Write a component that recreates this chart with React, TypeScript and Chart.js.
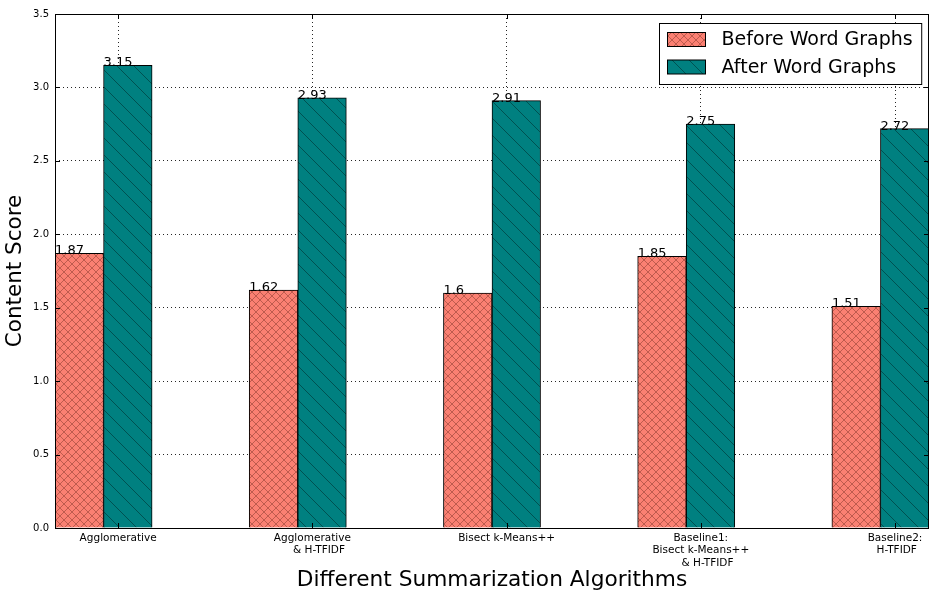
import { useEffect, useRef } from "react";
import { Chart, registerables } from "chart.js";

Chart.register(...registerables);

// Algorithm groups along the x axis (multi-line tick labels)
const categories: string[][] = [
  ["Agglomerative"],
  ["Agglomerative", "    & H-TFIDF"],
  ["Bisect k-Means++"],
  ["Baseline1:", "Bisect k-Means++", "    & H-TFIDF"],
  ["Baseline2:", " H-TFIDF"],
];

const seriesNames = ["Before Word Graphs", "After Word Graphs"];
const beforeScores = [1.87, 1.62, 1.6, 1.85, 1.51];
const afterScores = [3.15, 2.93, 2.91, 2.75, 2.72];

const yTickValues = [0, 0.5, 1, 1.5, 2, 2.5, 3, 3.5];

const xTitle = "Different Summarization Algorithms";
const yTitle = "Content Score";

// bar geometry in x-axis units (one unit per group)
const BAR_WIDTH = 0.25;
const TICK_OFFSET = 0.325;
const X_MAX = 4.5;

const SANS = "'DejaVu Sans', sans-serif";

function makeHatch(bg: string, fg: string, size: number, kinds: string[]) {
  const c = document.createElement("canvas");
  c.width = size;
  c.height = size;
  const g = c.getContext("2d")!;
  g.fillStyle = bg;
  g.fillRect(0, 0, size, size);
  g.strokeStyle = fg;
  g.lineWidth = 1;
  g.beginPath();
  for (let k = -1; k <= 1; k++) {
    if (kinds.includes("\\")) {
      g.moveTo(k * size, 0);
      g.lineTo(k * size + size, size);
    }
    if (kinds.includes("/")) {
      g.moveTo(k * size, size);
      g.lineTo(k * size + size, 0);
    }
  }
  g.stroke();
  return g.createPattern(c, "repeat")!;
}

export default function App() {
  const ref = useRef<HTMLCanvasElement>(null);

  useEffect(() => {
    document.body.style.margin = "0";
    const canvas = ref.current!;

    const redHatch = makeHatch("#fa8072", "rgba(140,60,50,0.55)", 8, ["\\", "/"]);
    const tealHatch = makeHatch("#008080", "rgba(0,50,50,0.6)", 17, ["\\"]);
    const fills = [redHatch, tealHatch];

    const valueLabels = {
      id: "valueLabels",
      afterDatasetsDraw(chart: any) {
        const ctx = chart.ctx;
        ctx.save();
        ctx.font = `13px ${SANS}`;
        ctx.fillStyle = "#000";
        ctx.textAlign = "left";
        ctx.textBaseline = "alphabetic";
        chart.data.datasets.forEach((ds: any, di: number) => {
          const meta = chart.getDatasetMeta(di);
          meta.data.forEach((bar: any, i: number) => {
            const p = bar.getProps(["x", "y", "width"], true);
            ctx.fillText(String(ds.data[i].y), p.x - p.width / 2, p.y + 1);
          });
        });
        ctx.restore();
      },
    };

    const frameAndLegend = {
      id: "frameAndLegend",
      afterDraw(chart: any) {
        const ctx = chart.ctx;
        const a = chart.chartArea;
        ctx.save();
        // axes frame
        ctx.strokeStyle = "#000";
        ctx.lineWidth = 1;
        ctx.strokeRect(a.left + 0.5, a.top + 0.5, a.right - a.left - 1, a.bottom - a.top);
        // inward tick marks
        ctx.beginPath();
        const ys = chart.scales.y;
        ys.ticks.forEach((t: any) => {
          const py = Math.round(ys.getPixelForValue(t.value)) + 0.5;
          ctx.moveTo(a.left, py);
          ctx.lineTo(a.left + 5, py);
          ctx.moveTo(a.right, py);
          ctx.lineTo(a.right - 5, py);
        });
        const xs = chart.scales.x;
        xs.ticks.forEach((t: any) => {
          const px = Math.round(xs.getPixelForValue(t.value)) + 0.5;
          ctx.moveTo(px, a.bottom);
          ctx.lineTo(px, a.bottom - 5);
          ctx.moveTo(px, a.top);
          ctx.lineTo(px, a.top + 5);
        });
        ctx.stroke();

        // legend box
        ctx.font = `19px ${SANS}`;
        const textW = Math.max(...chart.data.datasets.map((d: any) => ctx.measureText(d.label).width));
        const boxW = 62 + textW + 9;
        const boxH = 61;
        const bx = Math.round(a.right - 8 - boxW) + 0.5;
        const by = a.top + 9.5;
        ctx.fillStyle = "#fff";
        ctx.fillRect(bx, by, boxW, boxH);
        ctx.strokeStyle = "#000";
        ctx.strokeRect(bx, by, boxW, boxH);
        chart.data.datasets.forEach((d: any, i: number) => {
          const cy = by + 16 + i * 27.5;
          ctx.fillStyle = d.backgroundColor;
          ctx.fillRect(bx + 8, cy - 7, 38, 14);
          ctx.strokeStyle = "#000";
          ctx.strokeRect(bx + 8, cy - 7, 38, 14);
          ctx.fillStyle = "#000";
          ctx.textAlign = "left";
          ctx.textBaseline = "middle";
          ctx.fillText(d.label, bx + 62, cy + 1);
        });
        ctx.restore();
      },
    };

    const chart = new Chart(canvas, {
      type: "bar",
      data: {
        datasets: [beforeScores, afterScores].map((vals, si) => ({
          label: seriesNames[si],
          data: vals.map((v, i) => ({ x: i + BAR_WIDTH * (si + 0.5), y: v })),
          backgroundColor: fills[si] as any,
          borderColor: "#000",
          borderWidth: 1,
          borderSkipped: "bottom",
          grouped: false,
          categoryPercentage: 1,
          barPercentage: 1,
        })),
      },
      options: {
        responsive: false,
        devicePixelRatio: 1,
        animation: false,
        layout: { padding: { top: 14, right: 1, left: 0, bottom: 0 } },
        plugins: {
          legend: { display: false },
          tooltip: { enabled: false },
        },
        scales: {
          x: {
            type: "linear",
            min: 0,
            max: X_MAX,
            offset: false,
            z: 1,
            afterBuildTicks: (s: any) => {
              s.ticks = categories.map((_, i) => ({ value: i + TICK_OFFSET }));
            },
            afterFit: (s: any) => {
              s.height = 65;
            },
            ticks: {
              autoSkip: false,
              maxRotation: 0,
              minRotation: 0,
              padding: 4,
              color: "#000",
              font: { family: SANS, size: 10.5, lineHeight: 1.18 },
              callback: (_v: any, i: number) => categories[i],
            },
            grid: { color: "rgba(0,0,0,0.85)", lineWidth: 1, drawTicks: false, offset: false },
            border: { display: false, dash: [1, 3] },
            title: {
              display: true,
              text: xTitle,
              color: "#000",
              font: { family: SANS, size: 21.7, lineHeight: 1.2 },
              padding: { top: 0, bottom: 0 },
            },
          },
          y: {
            min: 0,
            max: 3.5,
            z: 1,
            afterBuildTicks: (s: any) => {
              s.ticks = yTickValues.map((v) => ({ value: v }));
            },
            afterFit: (s: any) => {
              s.width = 55;
            },
            ticks: {
              padding: 6,
              color: "#000",
              font: { family: SANS, size: 10 },
              callback: (v: any) => Number(v).toFixed(1),
            },
            grid: { color: "rgba(0,0,0,0.85)", lineWidth: 1, drawTicks: false },
            border: { display: false, dash: [1, 3] },
            title: {
              display: true,
              text: yTitle,
              color: "#000",
              font: { family: SANS, size: 21.5, lineHeight: 1.2 },
              padding: { top: 2.5, bottom: 0 },
            },
          },
        },
      },
      plugins: [valueLabels, frameAndLegend],
    });

    return () => chart.destroy();
  }, []);

  return <canvas ref={ref} width={930} height={593} style={{ display: "block" }} />;
}
